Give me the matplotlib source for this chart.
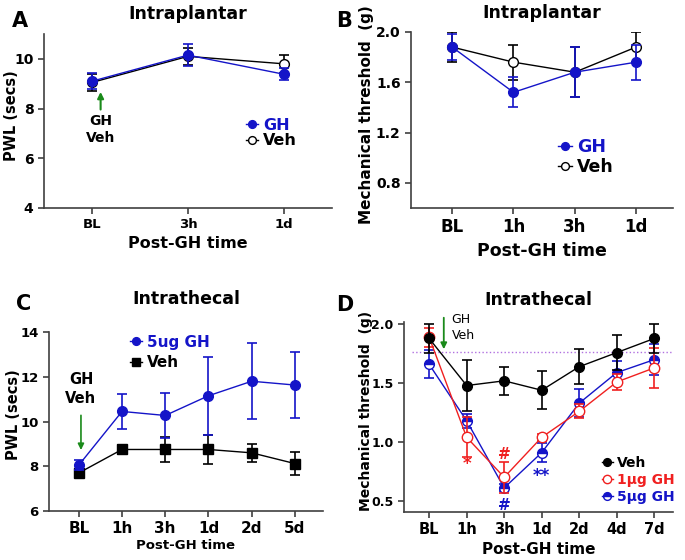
import matplotlib.pyplot as plt

plt.rcParams['font.family'] = 'DejaVu Sans'
plt.rcParams['font.weight'] = 'bold'

BLUE = '#1414c8'
RED = '#f02020'
GREEN = '#1a8a1a'
SPINE = '#404040'

# panel A - intraplantar, PWL
a_times = ['BL', '3h', '1d']
a_gh = [9.1, 10.15, 9.38]
a_gh_err = [0.33, 0.45, 0.25]
a_veh = [9.05, 10.1, 9.8]
a_veh_err = [0.33, 0.35, 0.35]

# panel B - intraplantar, mechanical threshold
b_times = ['BL', '1h', '3h', '1d']
b_gh = [1.88, 1.52, 1.68, 1.76]
b_gh_err = [0.1, 0.12, 0.2, 0.14]
b_veh = [1.88, 1.76, 1.68, 1.88]
b_veh_err = [0.12, 0.14, 0.2, 0.12]

# panel C - intrathecal, PWL
c_times = ['BL', '1h', '3h', '1d', '2d', '5d']
c_gh = [8.05, 10.45, 10.27, 11.15, 11.8, 11.63]
c_gh_err = [0.22, 0.8, 1.02, 1.75, 1.7, 1.47]
c_veh = [7.7, 8.75, 8.75, 8.75, 8.6, 8.12]
c_veh_err = [0.15, 0.2, 0.55, 0.65, 0.4, 0.5]

# panel D - intrathecal, mechanical threshold
d_times = ['BL', '1h', '3h', '1d', '2d', '4d', '7d']
d_veh = [1.88, 1.48, 1.52, 1.44, 1.64, 1.76, 1.88]
d_veh_err = [0.12, 0.22, 0.12, 0.16, 0.15, 0.15, 0.12]
d_gh1 = [1.89, 1.04, 0.70, 1.04, 1.26, 1.51, 1.63]
d_gh1_err = [0.08, 0.17, 0.13, 0.03, 0.06, 0.07, 0.17]
d_gh5 = [1.66, 1.18, 0.61, 0.91, 1.33, 1.59, 1.70]
d_gh5_err = [0.12, 0.06, 0.03, 0.08, 0.12, 0.1, 0.13]
d_baseline = 1.765


def style_axes(ax, xfs, yfs):
    for s in ['top', 'right']:
        ax.spines[s].set_visible(False)
    for s in ['left', 'bottom']:
        ax.spines[s].set_color(SPINE)
        ax.spines[s].set_linewidth(1.2)
    ax.tick_params(axis='both', colors=SPINE, length=4, width=1.2, labelcolor='black')
    ax.tick_params(axis='x', labelsize=xfs)
    ax.tick_params(axis='y', labelsize=yfs)
    for lab in ax.get_xticklabels() + ax.get_yticklabels():
        lab.set_fontweight('bold')


def series(ax, x, y, err, color, marker, ms, mfc, z, **kw):
    c = ax.errorbar(x, y, yerr=err, color=color, marker=marker, ms=ms, mfc=mfc,
                    mec=color, lw=1.0, elinewidth=1.2, capsize=3.5, capthick=1.2,
                    zorder=z, **kw)
    return c[0]


fig = plt.figure(figsize=(6.85, 5.6), dpi=100)

# ---- A
ax = fig.add_axes([0.0642, 0.6286, 0.4204, 0.3107])
xa = list(range(len(a_times)))
hv = series(ax, xa, a_veh, a_veh_err, 'black', 'o', 7, 'white', 2)
hg = series(ax, xa, a_gh, a_gh_err, BLUE, 'o', 7, BLUE, 3)
ax.set_xlim(-0.5, 2.5)
ax.set_ylim(4, 11)
ax.set_yticks([4, 6, 8, 10])
ax.set_xticks(xa, a_times)
style_axes(ax, 9.5, 10)
ax.set_xlabel('Post-GH time', fontsize=11.5, fontweight='bold', labelpad=3)
ax.set_ylabel('PWL (secs)', fontsize=10.5, fontweight='bold')
ax.yaxis.set_label_coords(-0.087, 0.53)
ax.set_title('Intraplantar', fontsize=12.5, fontweight='bold', pad=11)
ax.annotate('', xy=(0.09, 8.78), xytext=(0.09, 7.85),
            arrowprops=dict(arrowstyle='-|>', color=GREEN, lw=1.5, mutation_scale=9))
ax.text(0.09, 7.17, 'GH\nVeh', ha='center', va='center', fontsize=10,
        fontweight='bold', linespacing=1.3)
ax.legend([hg, hv], ['GH', 'Veh'], loc='upper left', bbox_to_anchor=(0.70, 0.52),
          frameon=False, handlelength=0.8, handletextpad=0.3,
          borderpad=0, borderaxespad=0, labelspacing=0.05, markerscale=0.8,
          labelcolor=[BLUE, 'black'], prop={'weight': 'bold', 'size': 11.5})

# ---- B
ax = fig.add_axes([0.6, 0.6286, 0.3825, 0.3143])
xb = list(range(len(b_times)))
hv = series(ax, xb, b_veh, b_veh_err, 'black', 'o', 7, 'white', 2)
hg = series(ax, xb, b_gh, b_gh_err, BLUE, 'o', 7, BLUE, 3)
ax.set_xlim(-0.67, 3.6)
ax.set_ylim(0.6, 2.0)
ax.set_yticks([0.8, 1.2, 1.6, 2.0])
ax.set_yticklabels(['0.8', '1.2', '1.6', '2.0'])
ax.set_xticks(xb, b_times)
style_axes(ax, 12, 10)
ax.set_xlabel('Post-GH time', fontsize=12.5, fontweight='bold', labelpad=4)
ax.set_ylabel('Mechanical threshold  (g)', fontsize=11, fontweight='bold')
ax.yaxis.set_label_coords(-0.14, 0.53)
ax.set_title('Intraplantar', fontsize=12.5, fontweight='bold', pad=10)
ax.legend([hg, hv], ['GH', 'Veh'], loc='upper left', bbox_to_anchor=(0.56, 0.40),
          frameon=False, handlelength=0.8, handletextpad=0.3,
          borderpad=0, borderaxespad=0, labelspacing=0.15, markerscale=0.8,
          labelcolor=[BLUE, 'black'], prop={'weight': 'bold', 'size': 12.5})

# ---- C
ax = fig.add_axes([0.0715, 0.0875, 0.4, 0.3196])
xc = list(range(len(c_times)))
hv = series(ax, xc, c_veh, c_veh_err, 'black', 's', 6.5, 'black', 2)
hg = series(ax, xc, c_gh, c_gh_err, BLUE, 'o', 7, BLUE, 3)
ax.set_xlim(-0.69, 5.65)
ax.set_ylim(6, 14)
ax.set_yticks([6, 8, 10, 12, 14])
ax.set_xticks(xc, c_times)
style_axes(ax, 11, 9.5)
ax.set_xlabel('Post-GH time', fontsize=9.5, fontweight='bold', labelpad=2)
ax.set_ylabel('PWL (secs)', fontsize=10.5, fontweight='bold')
ax.yaxis.set_label_coords(-0.102, 0.54)
ax.set_title('Intrathecal', fontsize=12.5, fontweight='bold', pad=20)
ax.annotate('', xy=(0.05, 8.6), xytext=(0.05, 10.4),
            arrowprops=dict(arrowstyle='-|>', color=GREEN, lw=1.2, mutation_scale=9))
ax.text(0.05, 11.45, 'GH\nVeh', ha='center', va='center', fontsize=10.5,
        fontweight='bold', linespacing=1.3)
ax.legend([hg, hv], ['5ug GH', 'Veh'], loc='upper left', bbox_to_anchor=(0.295, 0.985),
          frameon=False, handlelength=0.8, handletextpad=0.3,
          borderpad=0, borderaxespad=0, labelspacing=0.35, markerscale=0.8,
          labelcolor=[BLUE, 'black'], prop={'weight': 'bold', 'size': 11})

# ---- D
ax = fig.add_axes([0.5898, 0.0857, 0.3927, 0.3393])
xd = list(range(len(d_times)))
ax.axhline(d_baseline, xmin=0.03, xmax=1, color='#b070e0', lw=1.0, ls=':', zorder=1)
h5 = series(ax, xd, d_gh5, d_gh5_err, BLUE, 'o', 7, BLUE, 2,
            fillstyle='top', markerfacecoloralt='white')
h1 = series(ax, xd, d_gh1, d_gh1_err, RED, 'o', 7.5, 'white', 3)
hv = series(ax, xd, d_veh, d_veh_err, 'black', 'o', 7, 'black', 4)
ax.set_xlim(-0.67, 6.5)
ax.set_ylim(0.405, 2.02)
ax.set_yticks([0.5, 1.0, 1.5, 2.0])
ax.set_yticklabels(['0.5', '1.0', '1.5', '2.0'])
ax.set_xticks(xd, d_times)
style_axes(ax, 10.5, 9)
ax.set_xlabel('Post-GH time', fontsize=11, fontweight='bold', labelpad=3)
ax.set_ylabel('Mechanical threshold  (g)', fontsize=10, fontweight='bold')
ax.yaxis.set_label_coords(-0.117, 0.53)
ax.set_title('Intrathecal', fontsize=12.5, fontweight='bold', pad=12)
ax.annotate('', xy=(0.39, 1.765), xytext=(0.39, 2.08),
            arrowprops=dict(arrowstyle='-|>', color=GREEN, lw=1.3, mutation_scale=9),
            annotation_clip=False)
ax.text(0.6, 1.97, 'GH\nVeh', ha='left', va='center', fontsize=9,
        fontweight='normal', linespacing=1.3)
ax.text(1, 0.81, '*', color=RED, ha='center', va='center', fontsize=12, fontweight='bold')
ax.text(2, 0.89, '#', color=RED, ha='center', va='center', fontsize=11, fontweight='bold')
ax.text(2, 0.46, '#', color=BLUE, ha='center', va='center', fontsize=11, fontweight='bold')
ax.text(3, 0.71, '**', color=BLUE, ha='center', va='center', fontsize=12, fontweight='bold')
ax.legend([hv, h1, h5], ['Veh', '1\u03bcg GH', '5\u03bcg GH'], loc='upper left',
          bbox_to_anchor=(0.735, 0.295), frameon=False, handlelength=0.8,
          handletextpad=0.3, borderpad=0, borderaxespad=0, labelspacing=0.2,
          markerscale=0.8, labelcolor=['black', RED, BLUE],
          prop={'weight': 'bold', 'size': 10})

# panel letters
fig.text(0.029, 0.962, 'A', fontsize=15, fontweight='bold', ha='center', va='center')
fig.text(0.503, 0.962, 'B', fontsize=15, fontweight='bold', ha='center', va='center')
fig.text(0.034, 0.457, 'C', fontsize=15, fontweight='bold', ha='center', va='center')
fig.text(0.503, 0.455, 'D', fontsize=15, fontweight='bold', ha='center', va='center')

fig.savefig('out.png', dpi=100)
